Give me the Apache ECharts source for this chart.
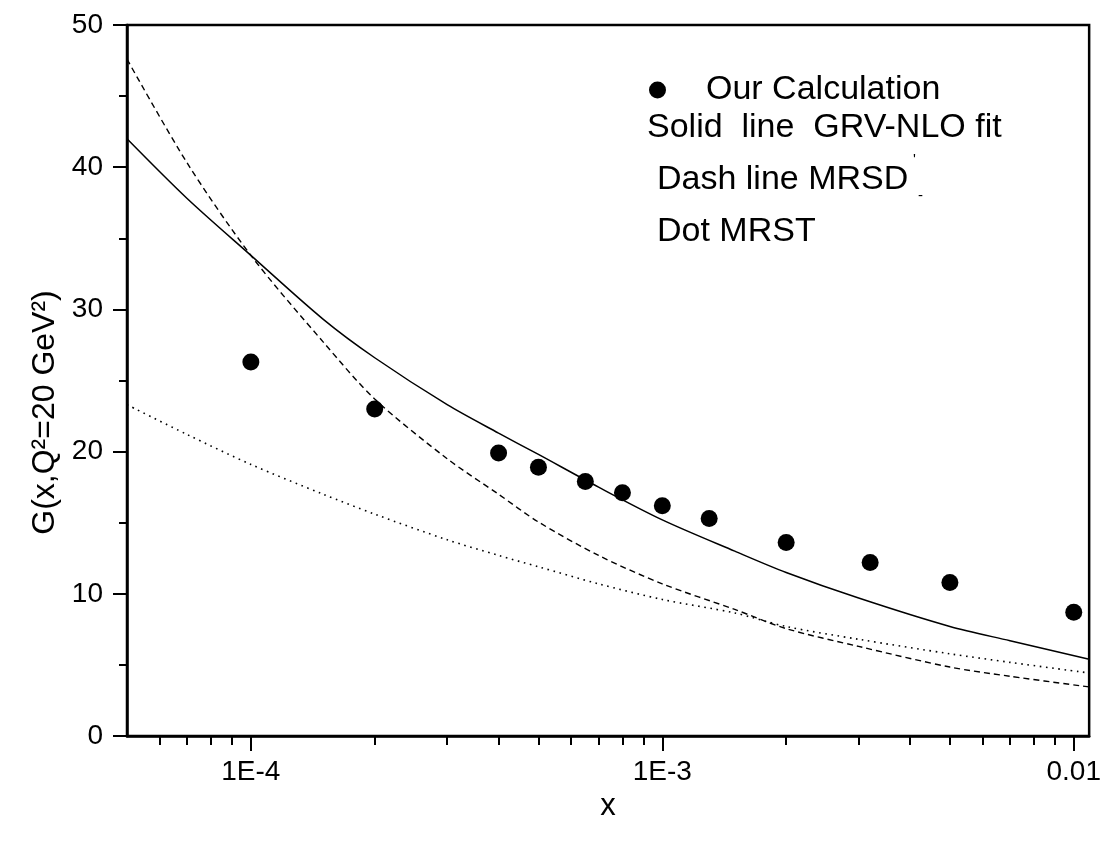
<!DOCTYPE html>
<html>
<head>
<meta charset="utf-8">
<script src="https://cdn.jsdelivr.net/npm/echarts@6/dist/echarts.min.js"></script>
<style>html,body{margin:0;padding:0;background:#fff}#chart{width:1104px;height:844px}</style>
</head>
<body>
<div id="chart"></div>
<script>
// ---- data ----
const X_MIN = 5e-5;
const X_MAX = 0.0109;
const Y_MIN = 0, Y_MAX = 50, Y_STEP = 10;

const X_TICKS = [1e-4, 1e-3, 1e-2];
const X_TICK_LABELS = ['1E-4', '1E-3', '0.01'];
const X_MINOR_TICKS = [6e-5, 7e-5, 8e-5, 9e-5,
  2e-4, 3e-4, 4e-4, 5e-4, 6e-4, 7e-4, 8e-4, 9e-4,
  2e-3, 3e-3, 4e-3, 5e-3, 6e-3, 7e-3, 8e-3, 9e-3];

// Our Calculation (points)
const X_CALC = [1e-4, 2e-4, 4e-4, 5e-4, 6.5e-4, 8e-4, 1e-3, 1.3e-3, 2e-3, 3.2e-3, 5e-3, 1e-2];
const G_CALC = [26.3, 23.0, 19.9, 18.9, 17.9, 17.1, 16.2, 15.3, 13.6, 12.2, 10.8, 8.7];

// curves
const X_CURVE = [5e-5, 7e-5, 1e-4, 1.5e-4, 2e-4, 3e-4, 4e-4, 5e-4, 7e-4, 1e-3, 1.5e-3, 2e-3, 3e-3, 5e-3, 7e-3, 0.0109];
const G_GRV  = [42.0, 37.8, 33.8, 29.3, 26.6, 23.3, 21.3, 19.8, 17.5, 15.2, 13.0, 11.5, 9.7, 7.7, 6.7, 5.4];
const G_MRSD = [47.6, 40.3, 33.8, 27.7, 23.7, 19.5, 17.0, 15.05, 12.7, 10.7, 8.9, 7.55, 6.3, 4.85, 4.2, 3.45];
const G_MRST = [23.3, 21.2, 19.1, 17.0, 15.6, 13.8, 12.7, 11.9, 10.7, 9.6, 8.65, 7.7, 6.8, 5.78, 5.18, 4.43];

const FONT = '"Liberation Sans", Arial, Helvetica, sans-serif';
const pair = (xs, ys) => xs.map((x, i) => [x, ys[i]]);

const chart = echarts.init(document.getElementById('chart'), null, {renderer: 'canvas'});
const lx = Math.log10;

const option = {
  backgroundColor: '#fff',
  animation: false,
  grid: {left: 127, right: 14, top: 25, bottom: 108, show: true, borderColor: '#000', borderWidth: 2.5, containLabel: false},
  legend: {
    left: 644, top: 68, padding: 5, selectedMode: false,
    itemWidth: 17, itemHeight: 17,
    data: [{name: 'Our Calculation', icon: 'circle', itemStyle: {color: '#000', opacity: 1}}],
    textStyle: {fontFamily: FONT, fontSize: 34, color: '#000', padding: [0, 0, 0, 35]}
  },
  xAxis: [
    {type: 'log', logBase: 10, min: X_MIN, max: X_MAX, show: false},
    {
      type: 'value', min: lx(X_MIN), max: lx(X_MAX), position: 'bottom',
      name: 'x', nameLocation: 'middle', nameGap: 44,
      nameTextStyle: {fontFamily: FONT, fontSize: 31, color: '#000'},
      axisLine: {show: true, onZero: false, lineStyle: {color: '#000', width: 2.5}},
      axisTick: {show: true, inside: false, length: 15, lineStyle: {color: '#000', width: 2},
        customValues: X_TICKS.map(lx)},
      axisLabel: {show: true, margin: 22, fontFamily: FONT, fontSize: 28, color: '#000',
        customValues: X_TICKS.map(lx),
        formatter: v => {
          const i = X_TICKS.findIndex(t => Math.abs(lx(t) - v) < 1e-6);
          return i >= 0 ? X_TICK_LABELS[i] : '';
        }},
      splitLine: {show: false}
    },
    {
      type: 'value', min: lx(X_MIN), max: lx(X_MAX), position: 'bottom',
      axisLine: {show: false, onZero: false},
      axisTick: {show: true, inside: false, length: 9, lineStyle: {color: '#000', width: 2},
        customValues: X_MINOR_TICKS.map(lx)},
      axisLabel: {show: false},
      splitLine: {show: false}
    }
  ],
  yAxis: {
    type: 'value', min: Y_MIN, max: Y_MAX, interval: Y_STEP,
    name: 'G(x,Q²=20 GeV²)', nameLocation: 'middle', nameGap: 62, nameRotate: 90,
    nameTextStyle: {fontFamily: FONT, fontSize: 32, color: '#000', padding: [0, 64, 0, 0]},
    axisLine: {show: true, lineStyle: {color: '#000', width: 2.5}},
    axisTick: {show: true, inside: false, length: 14, lineStyle: {color: '#000', width: 2}},
    minorTick: {show: true, splitNumber: 2, length: 8, lineStyle: {color: '#000', width: 2}},
    axisLabel: {margin: 24, fontFamily: FONT, fontSize: 28, color: '#000'},
    splitLine: {show: false}
  },
  graphic: [
    {type: 'text', style: {text: 'Solid  line  GRV-NLO fit', x: 647, y: 128, font: '34px ' + FONT, fill: '#000', verticalAlign: 'middle'}},
    {type: 'text', style: {text: 'Dash line MRSD', x: 657, y: 180, font: '34px ' + FONT, fill: '#000', verticalAlign: 'middle'}},
    {type: 'text', style: {text: "'", x: 913, y: 160, font: '15px ' + FONT, fill: '#000', verticalAlign: 'middle'}},
    {type: 'text', style: {text: '-', x: 918, y: 196, font: '15px ' + FONT, fill: '#000', verticalAlign: 'middle'}},
    {type: 'text', style: {text: 'Dot MRST', x: 657, y: 232, font: '34px ' + FONT, fill: '#000', verticalAlign: 'middle'}}
  ],
  series: [
    {
      name: 'GRV-NLO fit', type: 'line', xAxisIndex: 0, data: pair(X_CURVE, G_GRV),
      showSymbol: false, symbol: 'none', smooth: 0.3, clip: true,
      lineStyle: {color: '#000', width: 1.5, type: 'solid'}
    },
    {
      name: "MRSD'", type: 'line', xAxisIndex: 0, data: pair(X_CURVE, G_MRSD),
      showSymbol: false, symbol: 'none', smooth: 0.3, clip: true,
      lineStyle: {color: '#000', width: 1.4, type: [6, 4]}
    },
    {
      name: 'MRST', type: 'line', xAxisIndex: 0, data: pair(X_CURVE, G_MRST),
      showSymbol: false, symbol: 'none', smooth: 0.3, clip: true,
      lineStyle: {color: '#000', width: 1.6, type: [1.6, 4.6]}
    },
    {
      name: 'Our Calculation', type: 'scatter', xAxisIndex: 0, data: pair(X_CALC, G_CALC),
      symbol: 'circle', symbolSize: 17,
      itemStyle: {color: '#000', opacity: 1}
    }
  ]
};
chart.setOption(option);
</script>
</body>
</html>
